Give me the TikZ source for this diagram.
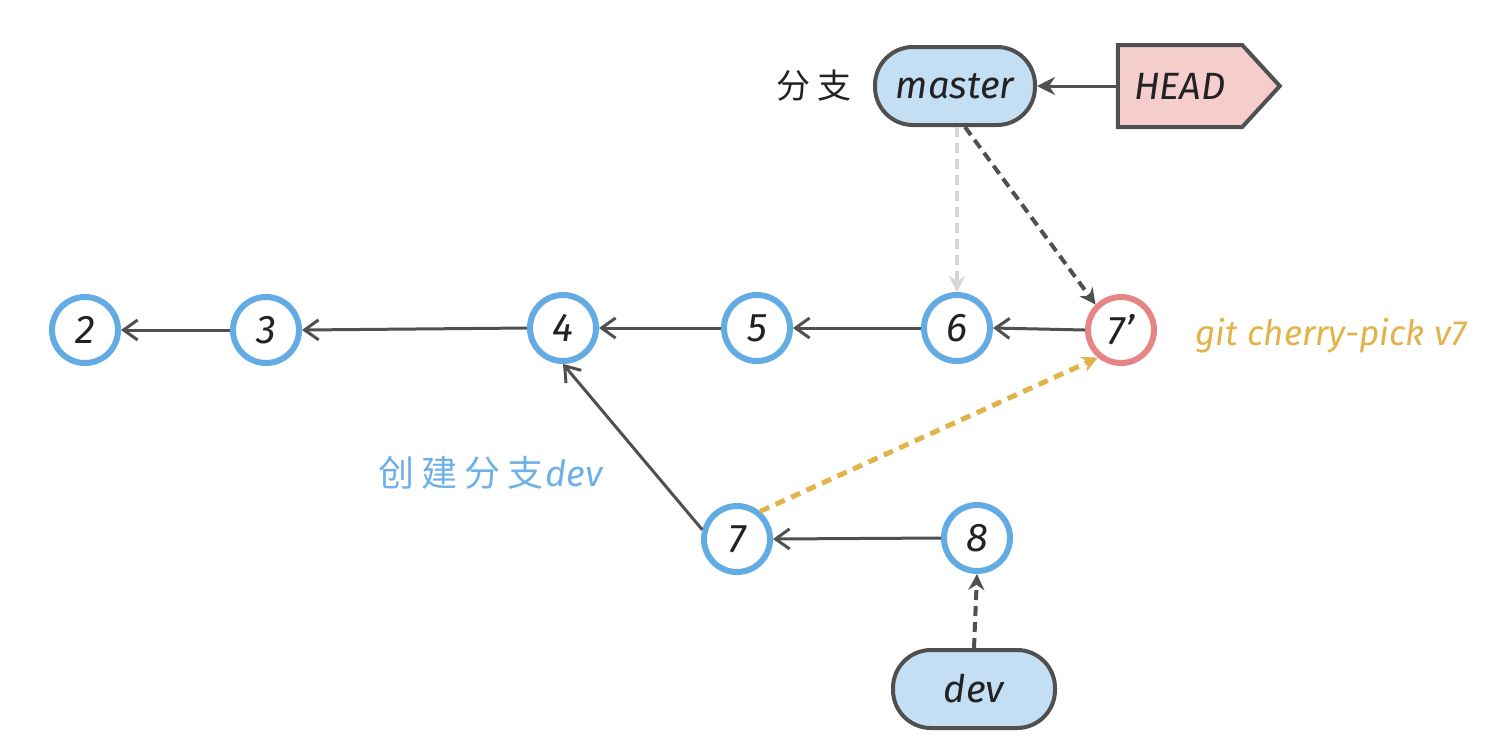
\documentclass[tikz,border=0pt]{standalone}
\usepackage{fontspec}
\setmainfont{Fira Sans}
\newfontfamily\cjk{Noto Sans CJK SC}
\usetikzlibrary{arrows.meta,shapes.symbols}
\definecolor{cblue}{HTML}{62ACE3}
\definecolor{cred}{HTML}{E58585}
\definecolor{ink}{HTML}{222222}
\definecolor{edge}{HTML}{505050}
\definecolor{mfill}{HTML}{C4DEF3}
\definecolor{hfill}{HTML}{F5CDCD}
\definecolor{corange}{HTML}{E2B34A}
\definecolor{lgray}{HTML}{D6D6D6}
\definecolor{lblue}{HTML}{6FB0E6}
\begin{document}
\begin{tikzpicture}[x=0.5pt,y=-0.5pt,
  commit/.style={circle,draw=cblue,line width=3pt,minimum size=33pt,inner sep=0pt,
    fill=white,text=ink,font=\itshape\fontsize{20}{20}\selectfont},
  redcommit/.style={commit,draw=cred},
  branch/.style={rectangle,rounded corners=19pt,draw=edge,line width=2pt,fill=mfill,
    minimum width=80pt,minimum height=39pt,inner sep=0pt,text=ink,
    font=\itshape\fontsize{19}{19}\selectfont},
  headbox/.style={signal,signal to=east,signal pointer angle=95,draw=edge,line width=2pt,
    fill=hfill,minimum width=81pt,minimum height=41pt,inner sep=2pt,text=ink,
    font=\itshape\fontsize{19}{19}\selectfont},
  parent/.style={draw=edge,line width=1.5pt,-{Straight Barb[length=7pt,width=10pt,line width=1.5pt]}},
  ref/.style={draw=edge,line width=2pt,dash pattern=on 5pt off 3pt,-{Stealth[length=8pt,width=8pt]}},
]
\useasboundingbox (0,0) rectangle (1506,752);

% commits
\node[commit] (n2) at (85,330) {2};
\node[commit] (n3) at (266,330) {3};
\node[commit] (n4) at (563,328) {4};
\node[commit] (n5) at (757,328) {5};
\node[commit] (n6) at (957,328) {6};
\node[redcommit] (n7p) at (1121,330) {7'};
\node[commit] (n7) at (737,539) {7};
\node[commit] (n8) at (977,538) {8};

% branches
\node[branch] (master) at (955,86) {master};
\node[headbox] (head) at (1180,86) {HEAD};
\node[branch,minimum width=81pt] (dev) at (974,689) {dev};

% labels
\node[text=ink,font=\cjk\fontsize{17}{17}\selectfont] (lbl1) at (814,86) {分\hspace{4pt}支};
\node[text=corange,font=\itshape\fontsize{17.5}{17.5}\selectfont] (lbl2) at (1331,336) {git cherry-pick v7};
\node[text=lblue,font=\fontsize{18}{18}\selectfont] (lbl3) at (491,473) {{\cjk 创\hspace{3.5pt}建\hspace{3.5pt}分\hspace{3.5pt}支}\hspace{1pt}\textit{dev}};

% parent links
\draw[parent] (n3.west) -- (n2.east);
\draw[parent] (n4.west) -- (n3.east);
\draw[parent] (n5.west) -- (n4.east);
\draw[parent] (n6.west) -- (n5.east);
\draw[parent] (n7p.west) -- (n6.east);
\draw[parent] (n8.west) -- (n7.east);
\draw[parent] (n7.165) -- (n4.south);

% references
\draw[draw=edge,line width=1.5pt,-{Stealth[length=9pt,width=9pt]}] (head.west) -- (master.east);
\draw[ref,draw=lgray] ([xshift=1pt]master.south) -- (n6.north);
\draw[ref] ([xshift=5pt]master.south) -- (n7p.135);
\draw[ref] (dev.north) -- (n8.south);
\draw[draw=corange,line width=2.5pt,dash pattern=on 5pt off 3.5pt,-{Stealth[length=8pt,width=8pt]}] (n7.50) -- (n7p.230);
\end{tikzpicture}
\end{document}
